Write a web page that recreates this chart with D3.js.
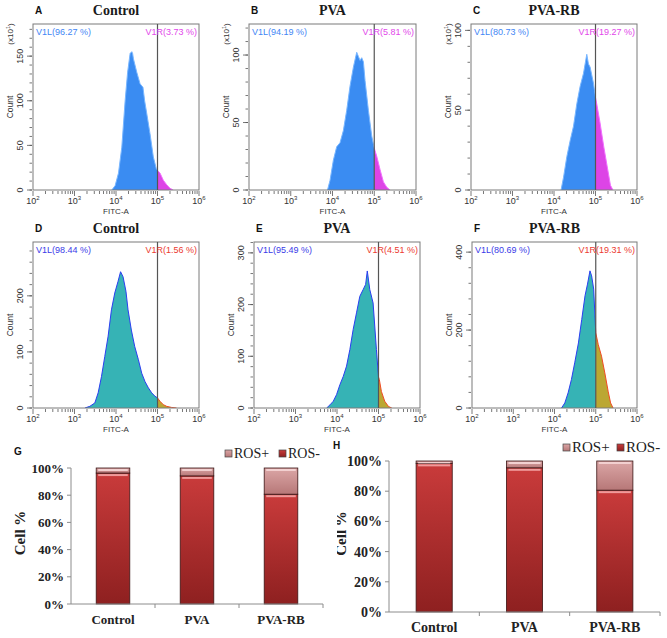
<!DOCTYPE html>
<html>
<head>
<meta charset="utf-8">
<script src="https://cdn.jsdelivr.net/npm/d3@7"></script>
<style>
  body { margin: 0; background: #fff; }
  svg { display: block; }
</style>
</head>
<body>
<svg id="fig" width="667" height="638"></svg>
<script>
// ---- data ----
// histograms: [log10(FITC-A), count]
var histA = [[3.90,0],[3.98,5],[4.06,19],[4.14,48],[4.22,100],[4.28,132],[4.34,153],[4.38,155],[4.40,153],[4.42,147],[4.50,132],[4.58,119],[4.65,115],[4.69,100],[4.74,86],[4.82,63],[4.90,37],[4.97,24],[5.0,22],[5.06,19],[5.14,11],[5.22,6],[5.30,2],[5.38,0]];
var histB = [[3.88,0],[3.94,7],[4.02,22],[4.10,32],[4.18,35],[4.26,44],[4.34,59],[4.42,77],[4.50,91],[4.58,102],[4.62,99],[4.66,96],[4.70,98],[4.74,95],[4.78,81],[4.86,59],[4.94,40],[5.0,31],[5.06,25],[5.14,15],[5.22,6],[5.30,2],[5.38,0]];
var histC = [[4.17,0],[4.23,8],[4.31,21],[4.39,31],[4.47,40],[4.55,54],[4.63,65],[4.71,73],[4.79,85],[4.83,79],[4.87,77],[4.95,67],[5.0,58],[5.03,54],[5.11,42],[5.20,27],[5.28,15],[5.36,3],[5.42,0]];
var histD = [[3.25,0],[3.37,3],[3.49,9],[3.57,27],[3.65,56],[3.73,92],[3.81,128],[3.89,175],[3.97,205],[4.05,226],[4.11,243],[4.17,234],[4.24,208],[4.29,175],[4.37,139],[4.45,110],[4.54,86],[4.62,62],[4.70,47],[4.78,36],[4.86,27],[4.94,21],[5.0,18],[5.06,12],[5.14,6],[5.22,3],[5.34,1],[5.46,0]];
var histE = [[3.75,0],[3.83,6],[3.91,13],[3.99,26],[4.07,45],[4.15,61],[4.23,81],[4.31,113],[4.39,152],[4.47,184],[4.55,216],[4.63,229],[4.69,239],[4.73,265],[4.79,229],[4.87,203],[4.95,113],[5.0,60],[5.02,55],[5.07,32],[5.15,13],[5.24,3],[5.32,0]];
var histF = [[4.17,0],[4.25,13],[4.33,39],[4.41,73],[4.49,116],[4.58,167],[4.66,227],[4.74,288],[4.80,318],[4.86,352],[4.90,339],[4.95,305],[5.0,193],[5.06,163],[5.14,133],[5.22,90],[5.30,43],[5.36,13],[5.42,0]];

var panelLetters = ["A","B","C","D","E","F"];
var panelTitles = ["Control","PVA","PVA-RB","Control","PVA","PVA-RB"];
var leftPct = ["96.27","94.19","80.73","98.44","95.49","80.69"];
var rightPct = ["3.73","5.81","19.27","1.56","4.51","19.31"];
var yMax = [186,123,104,296,321,426];
var yTicks = [[0,50,100,150],[0,50,100],[0,50,100],[0,100,200],[0,100,200,300],[0,200,400]];
var xTickExp = [2,3,4,5,6];
var gateX = 1e5;

// bar charts
var categories = ["Control","PVA","PVA-RB"];
var rosNegG = [96.27, 94.19, 80.73];
var rosPosG = [3.73, 5.81, 19.27];
var rosNegH = [98.44, 95.49, 80.69];
var rosPosH = [1.56, 4.51, 19.31];
var pctTicks = [0,20,40,60,80,100];

var SANS = "'Liberation Sans', Arial, sans-serif";
var SERIF = "'Liberation Serif', 'Times New Roman', 'DejaVu Serif', serif";

// ---- layout ----
var boxes = [
  {l:33, r:199, t:24, b:190},
  {l:249, r:416, t:24, b:190},
  {l:471, r:637, t:24, b:190},
  {l:33, r:199, t:242, b:408},
  {l:254, r:420, t:242, b:408},
  {l:472, r:637, t:242, b:408}
];
var hists = [histA, histB, histC, histD, histE, histF];

var svg = d3.select("#fig");
var defs = svg.append("defs");

function drawHist(i) {
  var bx = boxes[i], data = hists[i], top = i < 3;
  var x = d3.scaleLog().domain([1e2, 1e6]).range([bx.l, bx.r]);
  var y = d3.scaleLinear().domain([0, yMax[i]]).range([bx.b, bx.t]);
  var g = svg.append("g").attr("font-family", SANS);
  var gx = x(gateX);

  defs.append("clipPath").attr("id", "cl" + i).append("rect")
    .attr("x", bx.l).attr("y", bx.t).attr("width", gx - bx.l).attr("height", bx.b - bx.t);
  defs.append("clipPath").attr("id", "cr" + i).append("rect")
    .attr("x", gx).attr("y", bx.t).attr("width", bx.r - gx).attr("height", bx.b - bx.t);

  var area = d3.area().x(function(d){ return x(Math.pow(10, d[0])); })
    .y0(y(0)).y1(function(d){ return y(d[1]); });
  var line = d3.line().x(function(d){ return x(Math.pow(10, d[0])); })
    .y(function(d){ return y(d[1]); });

  var fillL = top ? "#3a8cf2" : "#36b3b5";
  var fillR = top ? "#dd44e6" : "#bba733";
  var strokeL = top ? "#78b6ff" : "#2a3ef0";
  var strokeR = top ? "#f070ff" : "#f04a24";

  g.append("path").datum(data).attr("d", area).attr("fill", fillL).attr("clip-path", "url(#cl" + i + ")");
  g.append("path").datum(data).attr("d", area).attr("fill", fillR).attr("clip-path", "url(#cr" + i + ")");
  g.append("path").datum(data).attr("d", line).attr("fill", "none").attr("stroke", strokeL)
    .attr("stroke-width", 1).attr("clip-path", "url(#cl" + i + ")");
  g.append("path").datum(data).attr("d", line).attr("fill", "none").attr("stroke", strokeR)
    .attr("stroke-width", 1).attr("clip-path", "url(#cr" + i + ")");

  // frame
  g.append("rect").attr("x", bx.l).attr("y", bx.t).attr("width", bx.r - bx.l).attr("height", bx.b - bx.t)
    .attr("fill", "none").attr("stroke", "#7a7a7a").attr("stroke-width", 1);
  // gate
  g.append("line").attr("x1", gx).attr("x2", gx).attr("y1", bx.t).attr("y2", bx.b)
    .attr("stroke", "#555").attr("stroke-width", 1.2);

  // x ticks (log, major + minor)
  var minor = [];
  for (var e = 2; e < 6; e++) for (var m = 2; m < 10; m++) minor.push(m * Math.pow(10, e));
  g.selectAll(".xmin").data(minor).enter().append("line")
    .attr("x1", function(d){ return x(d); }).attr("x2", function(d){ return x(d); })
    .attr("y1", bx.b + 1).attr("y2", bx.b + 4).attr("stroke", "#555").attr("stroke-width", 0.8);
  g.selectAll(".xmaj").data(xTickExp).enter().append("line")
    .attr("x1", function(d){ return x(Math.pow(10, d)); }).attr("x2", function(d){ return x(Math.pow(10, d)); })
    .attr("y1", bx.b + 1).attr("y2", bx.b + 6).attr("stroke", "#555").attr("stroke-width", 0.8);
  var xl = g.selectAll(".xl").data(xTickExp).enter().append("text")
    .attr("x", function(d){ return x(Math.pow(10, d)); }).attr("y", bx.b + 14)
    .attr("text-anchor", "middle").attr("font-size", 9).attr("fill", "#333");
  xl.append("tspan").text("10");
  xl.append("tspan").attr("dy", -4).attr("font-size", 6).text(function(d){ return d; });
  g.append("text").attr("x", (bx.l + bx.r) / 2).attr("y", bx.b + 24).attr("text-anchor", "middle")
    .attr("font-size", 8).attr("fill", "#333").text("FITC-A");

  // y ticks
  var step = yTicks[i][1] / 5;
  var ym = d3.range(0, yMax[i], step);
  g.selectAll(".ymin").data(ym).enter().append("line")
    .attr("x1", bx.l - 1).attr("x2", bx.l - 3.5).attr("y1", function(d){ return y(d); }).attr("y2", function(d){ return y(d); })
    .attr("stroke", "#555").attr("stroke-width", 0.8);
  g.selectAll(".ymaj").data(yTicks[i]).enter().append("line")
    .attr("x1", bx.l - 1).attr("x2", bx.l - 6).attr("y1", function(d){ return y(d); }).attr("y2", function(d){ return y(d); })
    .attr("stroke", "#555").attr("stroke-width", 0.8);
  g.selectAll(".yl").data(yTicks[i]).enter().append("text")
    .attr("transform", function(d){ return "translate(" + (bx.l - 10) + "," + y(d) + ") rotate(-90)"; })
    .attr("text-anchor", "middle").attr("font-size", 9).attr("fill", "#333").text(function(d){ return d; });
  g.append("text").attr("transform", "translate(" + (bx.l - 20) + "," + ((bx.t + bx.b) / 2) + ") rotate(-90)")
    .attr("text-anchor", "middle").attr("font-size", 8.5).attr("fill", "#333").text("Count");
  if (top) {
    var u = g.append("text").attr("transform", "translate(" + (bx.l - 20) + "," + (bx.t + 10) + ") rotate(-90)")
      .attr("text-anchor", "middle").attr("font-size", 8).attr("fill", "#333");
    u.append("tspan").text("(x10");
    u.append("tspan").attr("dy", -3).attr("font-size", 5.5).text("1");
    u.append("tspan").attr("dy", 3).text(")");
  }

  // gate labels
  g.append("text").attr("x", bx.l + 3).attr("y", bx.t + 11).attr("font-size", 9)
    .attr("fill", top ? "#3f86f5" : "#3a3ae8").text("V1L(" + leftPct[i] + " %)");
  g.append("text").attr("x", bx.r - 2).attr("y", bx.t + 11).attr("font-size", 9).attr("text-anchor", "end")
    .attr("fill", top ? "#e246ea" : "#ec3a30").text("V1R(" + rightPct[i] + " %)");

  // panel letter + title
  g.append("text").attr("x", bx.l + 2).attr("y", bx.t - 10).attr("font-size", 10).attr("font-weight", "bold")
    .attr("fill", "#111").text(panelLetters[i]);
  svg.append("text").attr("font-family", SERIF).attr("x", (bx.l + bx.r) / 2).attr("y", bx.t - 9)
    .attr("text-anchor", "middle").attr("font-size", 14).attr("font-weight", "bold").attr("fill", "#1a1a1a")
    .text(panelTitles[i]);
}

for (var k = 0; k < 6; k++) drawHist(k);

// ---- gradients for bars ----
function grad(id, c0, c1) {
  var lg = defs.append("linearGradient").attr("id", id).attr("x1", 0).attr("y1", 0).attr("x2", 0).attr("y2", 1);
  lg.append("stop").attr("offset", "0%").attr("stop-color", c0);
  lg.append("stop").attr("offset", "100%").attr("stop-color", c1);
}
grad("gNeg", "#c93b3b", "#8e2020");
grad("gPos", "#dba6a6", "#b77878");

function drawBars(cfg) {
  var neg = cfg.neg, pos = cfg.pos;
  var x = d3.scaleBand().domain(categories).range([cfg.l, cfg.r]).paddingInner(0.6).paddingOuter(0.3);
  var y = d3.scaleLinear().domain([0, 100]).range([cfg.b, cfg.t]);
  var g = svg.append("g").attr("font-family", SERIF);
  if (cfg.clip) {
    defs.append("clipPath").attr("id", "clipH").append("rect").attr("x", cfg.clip).attr("y", 420)
      .attr("width", 667 - cfg.clip).attr("height", 218);
    g.attr("clip-path", "url(#clipH)");
  }
  var rows = categories.map(function(c, j){ return {cat: c, neg: neg[j], pos: pos[j]}; });
  var stack = d3.stack().keys(["neg", "pos"])(rows);

  stack.forEach(function(layer) {
    var key = layer.key;
    g.selectAll(".b" + key).data(layer).enter().append("rect")
      .attr("x", function(d){ return x(d.data.cat); })
      .attr("width", x.bandwidth())
      .attr("y", function(d){ return y(d[1]); })
      .attr("height", function(d){ return y(d[0]) - y(d[1]); })
      .attr("fill", key === "neg" ? "url(#gNeg)" : "url(#gPos)")
      .attr("stroke", "#3b1414").attr("stroke-width", 0.8);
    // highlight strip at top of each segment
    g.selectAll(".h" + key).data(layer).enter().append("rect")
      .attr("x", function(d){ return x(d.data.cat) + 2; })
      .attr("width", x.bandwidth() - 4)
      .attr("y", function(d){ return y(d[1]) + 1; })
      .attr("height", function(d){ return Math.min(2, y(d[0]) - y(d[1]) - 1); })
      .attr("fill", key === "neg" ? "#ef9a9a" : "#f2d0d0");
  });

  // axes
  g.append("line").attr("x1", cfg.l).attr("x2", cfg.l).attr("y1", cfg.t).attr("y2", cfg.b).attr("stroke", "#8c8c8c");
  g.append("line").attr("x1", cfg.l).attr("x2", cfg.r).attr("y1", cfg.b).attr("y2", cfg.b).attr("stroke", "#8c8c8c");
  g.selectAll(".yt").data(pctTicks).enter().append("line")
    .attr("x1", cfg.l - 4).attr("x2", cfg.l).attr("y1", function(d){ return y(d); }).attr("y2", function(d){ return y(d); })
    .attr("stroke", "#8c8c8c");
  g.selectAll(".yl").data(pctTicks).enter().append("text")
    .attr("x", cfg.l - 7).attr("y", function(d){ return y(d) + cfg.fs * 0.35; })
    .attr("text-anchor", "end").attr("font-size", cfg.fs).attr("font-weight", "bold").attr("fill", "#222")
    .text(function(d){ return d + "%"; });
  var bounds = categories.map(function(c){ return x(c) - x.step() * x.paddingInner() / 2; }).slice(1).concat([cfg.r]);
  g.selectAll(".xt").data(bounds).enter().append("line")
    .attr("x1", function(d){ return d; }).attr("x2", function(d){ return d; })
    .attr("y1", cfg.b).attr("y2", cfg.b + 4).attr("stroke", "#8c8c8c");
  g.selectAll(".xl").data(categories).enter().append("text")
    .attr("x", function(d){ return x(d) + x.bandwidth() / 2; }).attr("y", cfg.catY)
    .attr("text-anchor", "middle").attr("font-size", cfg.fs).attr("font-weight", "bold").attr("fill", "#222")
    .text(function(d){ return d; });
  g.append("text").attr("transform", "translate(" + cfg.titleX + "," + ((cfg.t + cfg.b) / 2 - 3) + ") rotate(-90)")
    .attr("text-anchor", "middle").attr("font-size", 15).attr("font-weight", "bold").attr("fill", "#222").text("Cell %");

  // legend
  var lg = [{k: "ROS+", f: "url(#gPos)", x: cfg.legX[0]}, {k: "ROS-", f: "url(#gNeg)", x: cfg.legX[1]}];
  lg.forEach(function(d) {
    g.append("rect").attr("x", d.x).attr("y", cfg.legY - 8).attr("width", 7).attr("height", 7)
      .attr("fill", d.f).attr("stroke", "#444").attr("stroke-width", 0.7);
    g.append("text").attr("x", d.x + 9).attr("y", cfg.legY).attr("font-size", cfg.legFs).attr("fill", "#222").text(d.k);
  });
  svg.append("text").attr("font-family", SANS).attr("x", cfg.letterX).attr("y", cfg.legY - 3)
    .attr("font-size", 10).attr("font-weight", "bold").attr("fill", "#111").text(cfg.letter);
}

drawBars({neg: rosNegG, pos: rosPosG, l: 71, r: 323, t: 468, b: 604, fs: 13, catY: 624, titleX: 25,
  legX: [225, 279], legY: 458, legFs: 14, letter: "G", letterX: 14});
drawBars({neg: rosNegH, pos: rosPosH, l: 389, r: 660, t: 461, b: 612, fs: 14, catY: 632, titleX: 346,
  legX: [563, 617], legY: 452, legFs: 15, letter: "H", letterX: 333, clip: 337});
</script>
</body>
</html>
